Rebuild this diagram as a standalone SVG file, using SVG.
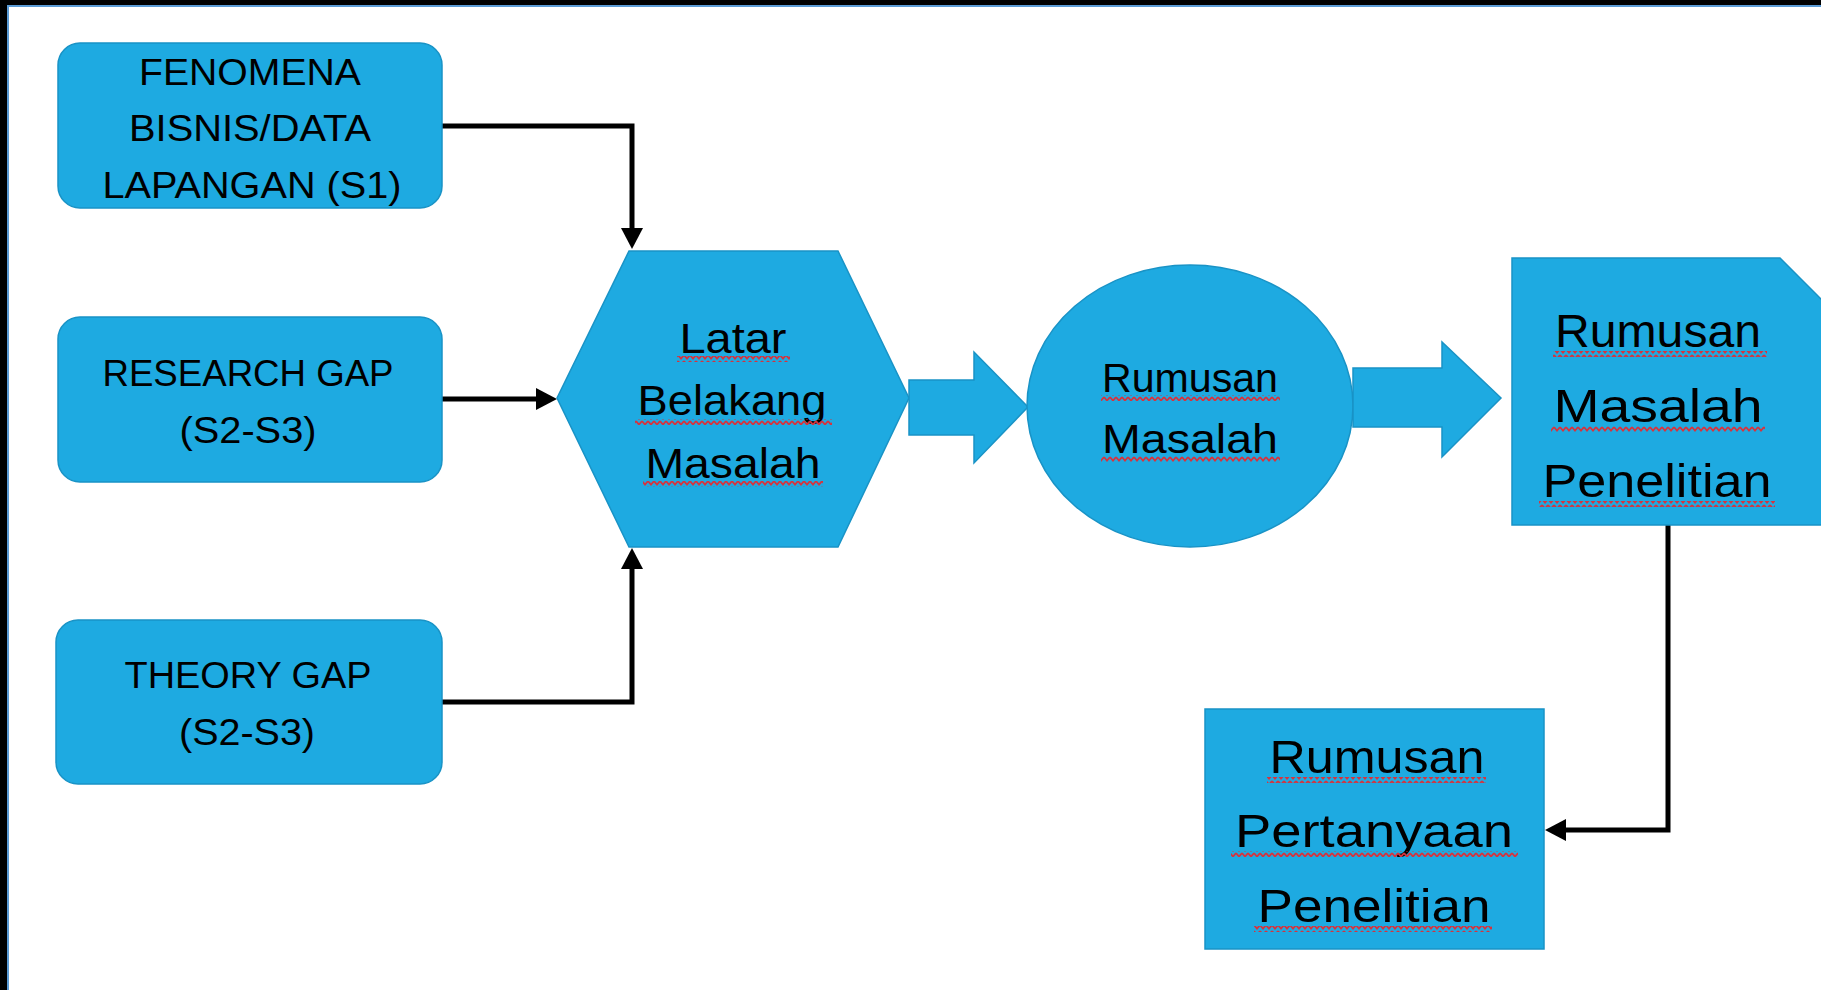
<svg xmlns="http://www.w3.org/2000/svg" width="1821" height="990" viewBox="0 0 1821 990">
<defs>
<style>
.shape{fill:#1eaae1;stroke:#1993c6;stroke-width:1.5}
.t{font-family:"Liberation Sans",Arial,sans-serif;fill:#000;text-anchor:middle}
.s36{font-size:36px}
.s42{font-size:42px}
.s40{font-size:40px}
.s47{font-size:47px}
.conn{fill:none;stroke:#000;stroke-width:5;stroke-linejoin:miter}
.sq{fill:url(#wave)}
</style>
<pattern id="wave" patternUnits="userSpaceOnUse" width="6" height="6">
<path d="M0,1 L3,4.5 L6,1" fill="none" stroke="#d6333d" stroke-width="1.8"/>
</pattern>
<marker id="arr" markerUnits="userSpaceOnUse" markerWidth="22" markerHeight="22" refX="10" refY="11" orient="auto">
<path d="M0,0 L21,11 L0,22 Z" fill="#000"/>
</marker>
</defs>
<rect width="1821" height="990" fill="#fff"/>
<rect x="0" y="0" width="1821" height="5" fill="#000"/>
<rect x="0" y="0" width="7" height="990" fill="#000"/>
<rect x="7" y="5" width="1814" height="2" fill="#5b9bd5"/>
<rect x="7" y="5" width="2" height="985" fill="#5b9bd5"/>

<g id="connectors">
<path class="conn" d="M442,126 H632 V238" marker-end="url(#arr)"/>
<path class="conn" d="M442,399 H546" marker-end="url(#arr)"/>
<path class="conn" d="M442,702 H632 V559" marker-end="url(#arr)"/>
<path class="conn" d="M1668,525 V830 H1556" marker-end="url(#arr)"/>
</g>

<g id="fenomena">
<rect class="shape" x="58" y="43" width="384" height="165" rx="22"/>
<text class="t s36" x="250" y="85" textLength="222" lengthAdjust="spacingAndGlyphs">FENOMENA</text>
<text class="t s36" x="250" y="141" textLength="242" lengthAdjust="spacingAndGlyphs">BISNIS/DATA</text>
<text class="t s36" x="252" y="198" textLength="299" lengthAdjust="spacingAndGlyphs">LAPANGAN (S1)</text>
</g>

<g id="research-gap">
<rect class="shape" x="58" y="317" width="384" height="165" rx="22"/>
<text class="t s36" x="248" y="386" textLength="291" lengthAdjust="spacingAndGlyphs">RESEARCH GAP</text>
<text class="t s36" x="248" y="443" textLength="137" lengthAdjust="spacingAndGlyphs">(S2-S3)</text>
</g>

<g id="theory-gap">
<rect class="shape" x="56" y="620" width="386" height="164" rx="22"/>
<text class="t s36" x="248" y="688" textLength="247" lengthAdjust="spacingAndGlyphs">THEORY GAP</text>
<text class="t s36" x="247" y="745" textLength="136" lengthAdjust="spacingAndGlyphs">(S2-S3)</text>
</g>

<g id="latar-belakang">
<polygon class="shape" points="629,251 838,251 909,398 838,547 629,547 557,398"/>
<text class="t s42" x="733" y="353" textLength="107" lengthAdjust="spacingAndGlyphs">Latar</text>
<text class="t s42" x="732" y="415" textLength="189" lengthAdjust="spacingAndGlyphs">Belakang</text>
<text class="t s42" x="733" y="478" textLength="175" lengthAdjust="spacingAndGlyphs">Masalah</text>
<rect class="sq" x="677" y="356" width="113" height="6"/>
<rect class="sq" x="635" y="419" width="197" height="6"/>
<rect class="sq" x="643" y="481" width="180" height="6"/>
</g>

<g id="arrow-1">
<path class="shape" d="M909,380 H974 V352 L1028,407 L974,463 V435 H909 Z"/>
</g>

<g id="rumusan-masalah">
<ellipse class="shape" cx="1190" cy="406" rx="163" ry="141"/>
<text class="t s40" x="1190" y="392" textLength="176" lengthAdjust="spacingAndGlyphs">Rumusan</text>
<text class="t s40" x="1190" y="453" textLength="176" lengthAdjust="spacingAndGlyphs">Masalah</text>
<rect class="sq" x="1101" y="395" width="179" height="6"/>
<rect class="sq" x="1101" y="456" width="179" height="6"/>
</g>

<g id="arrow-2">
<path class="shape" d="M1353,368 H1442 V342 L1501,398 L1442,457 V427 H1353 Z"/>
</g>

<g id="rumusan-masalah-penelitian">
<polygon class="shape" points="1512,258 1780,258 1830,308 1830,525 1512,525"/>
<text class="t s47" x="1658" y="347" textLength="206" lengthAdjust="spacingAndGlyphs">Rumusan</text>
<text class="t s47" x="1658" y="422" textLength="209" lengthAdjust="spacingAndGlyphs">Masalah</text>
<text class="t s47" x="1657" y="497" textLength="229" lengthAdjust="spacingAndGlyphs">Penelitian</text>
<rect class="sq" x="1553" y="351" width="214" height="6"/>
<rect class="sq" x="1551" y="426" width="214" height="6"/>
<rect class="sq" x="1539" y="501" width="236" height="6"/>
</g>

<g id="rumusan-pertanyaan-penelitian">
<rect class="shape" x="1205" y="709" width="339" height="240"/>
<text class="t s47" x="1377" y="773" textLength="215" lengthAdjust="spacingAndGlyphs">Rumusan</text>
<text class="t s47" x="1374" y="847" textLength="278" lengthAdjust="spacingAndGlyphs">Pertanyaan</text>
<text class="t s47" x="1374" y="922" textLength="233" lengthAdjust="spacingAndGlyphs">Penelitian</text>
<rect class="sq" x="1267" y="777" width="219" height="6"/>
<rect class="sq" x="1231" y="851" width="287" height="6"/>
<rect class="sq" x="1254" y="926" width="238" height="6"/>
</g>
</svg>
